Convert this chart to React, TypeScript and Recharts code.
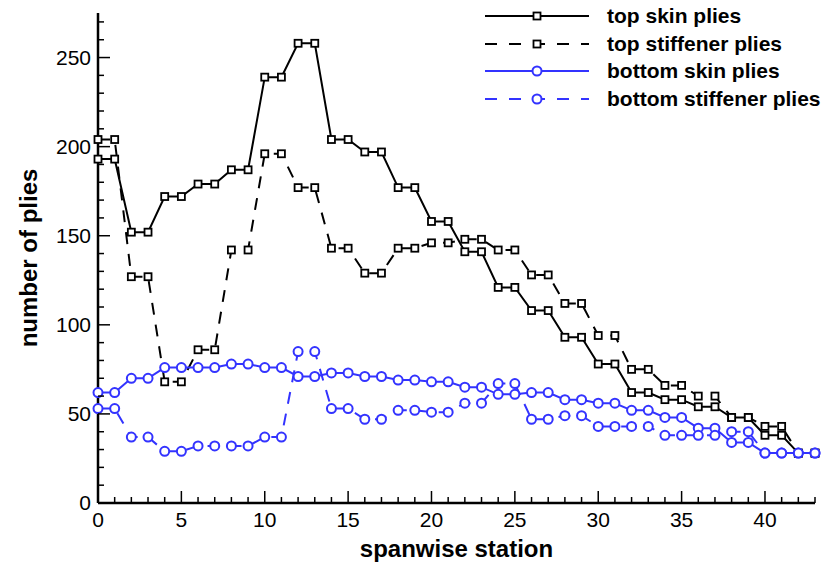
import React from 'react'
import { LineChart, Line, XAxis, YAxis } from 'recharts'

// spanwise stations along the wing
const stations = [
  0, 1, 2, 3, 4, 5, 6, 7, 8, 9, 10, 11, 12, 13, 14, 15, 16, 17, 18, 19, 20, 21,
  22, 23, 24, 25, 26, 27, 28, 29, 30, 31, 32, 33, 34, 35, 36, 37, 38, 39, 40, 41, 42, 43,
]

const topSkin = [
  193, 193, 152, 152, 172, 172, 179, 179, 187, 187, 239, 239, 258, 258, 204, 204, 197, 197, 177, 177, 158, 158,
  141, 141, 121, 121, 108, 108, 93, 93, 78, 78, 62, 62, 58, 58, 54, 54, 48, 48, 38, 38, 28, 28,
]
const topStiffener = [
  204, 204, 127, 127, 68, 68, 86, 86, 142, 142, 196, 196, 177, 177, 143, 143, 129, 129, 143, 143, 146, 146,
  148, 148, 142, 142, 128, 128, 112, 112, 94, 94, 75, 75, 66, 66, 60, 60, 48, 48, 43, 43, 28, 28,
]
const bottomSkin = [
  62, 62, 70, 70, 76, 76, 76, 76, 78, 78, 76, 76, 71, 71, 73, 73, 71, 71, 69, 69, 68, 68,
  65, 65, 61, 61, 62, 62, 58, 58, 56, 56, 52, 52, 48, 48, 42, 42, 34, 34, 28, 28, 28, 28,
]
const bottomStiffener = [
  53, 53, 37, 37, 29, 29, 32, 32, 32, 32, 37, 37, 85, 85, 53, 53, 47, 47, 52, 52, 51, 51,
  56, 56, 67, 67, 47, 47, 49, 49, 43, 43, 43, 43, 38, 38, 38, 38, 40, 40, 28, 28, 28, 28,
]

const yTicks = [0, 10, 20, 30, 40, 50, 60, 70, 80, 90, 100, 110, 120, 130, 140, 150, 160, 170, 180, 190, 200, 210, 220, 230, 240, 250, 260, 270]

const legendItems = [
  { name: 'top skin plies', color: '#000', dashed: false, marker: 'square' },
  { name: 'top stiffener plies', color: '#000', dashed: true, marker: 'square' },
  { name: 'bottom skin plies', color: '#3333ff', dashed: false, marker: 'circle' },
  { name: 'bottom stiffener plies', color: '#3333ff', dashed: true, marker: 'circle' },
]

const BLUE = '#3333ff'
const FONT = '"Liberation Sans", Arial, Helvetica, sans-serif'
const DASH = '12 10'

const data = stations.map((s, i) => ({
  station: s,
  topSkin: topSkin[i],
  topStiffener: topStiffener[i],
  bottomSkin: bottomSkin[i],
  bottomStiffener: bottomStiffener[i],
}))

const YTick = (props: any) => {
  const { x, y, payload } = props
  const v = payload.value
  const major = v % 50 === 0
  return (
    <g>
      <line x1={x} x2={x + (major ? 12 : 6)} y1={y} y2={y} stroke="#000" strokeWidth={1.5} />
      {major && (
        <text x={x - 7} y={y + 7} textAnchor="end" fontSize={21} fontFamily={FONT} fill="#000">
          {v}
        </text>
      )}
    </g>
  )
}

const XTick = (props: any) => {
  const { x, y, payload } = props
  const v = payload.value
  const major = v % 5 === 0
  return (
    <g>
      <line x1={x} x2={x} y1={y} y2={y - (major ? 12 : 6)} stroke="#000" strokeWidth={1.5} />
      {major && (
        <text x={x} y={y + 24} textAnchor="middle" fontSize={21} fontFamily={FONT} fill="#000">
          {v}
        </text>
      )}
    </g>
  )
}

const squareDot = (props: any) => {
  const { cx, cy, index } = props
  return (
    <rect key={`sq-${props.dataKey}-${index}`} x={cx - 3.5} y={cy - 3.5} width={7} height={7}
      fill="#fff" stroke="#000" strokeWidth={1.8} />
  )
}

const circleDot = (props: any) => {
  const { cx, cy, index } = props
  return (
    <circle key={`ci-${props.dataKey}-${index}`} cx={cx} cy={cy} r={4.5}
      fill="#fff" stroke={BLUE} strokeWidth={2} />
  )
}

function LegendRow({ item }: { item: typeof legendItems[number] }) {
  return (
    <div style={{ display: 'flex', alignItems: 'center', height: 27.8 }}>
      <svg width={104} height={20} style={{ overflow: 'visible' }}>
        <line x1={0} x2={104} y1={10} y2={10} stroke={item.color} strokeWidth={2}
          strokeDasharray={item.dashed ? '12 12' : undefined} />
        {item.marker === 'square' ? (
          <rect x={48.5} y={6.5} width={7} height={7} fill="#fff" stroke="#000" strokeWidth={1.8} />
        ) : (
          <circle cx={52} cy={10} r={4.5} fill="#fff" stroke={BLUE} strokeWidth={2} />
        )}
      </svg>
      <span style={{ marginLeft: 18, fontFamily: FONT, fontWeight: 700, fontSize: 21, color: '#000', whiteSpace: 'nowrap' }}>
        {item.name}
      </span>
    </div>
  )
}

export default function App() {
  return (
    <div style={{ position: 'absolute', left: 0, top: 0, width: 839, height: 565, background: '#fff' }}>
      <LineChart width={839} height={565} data={data} margin={{ top: 13, right: 24, bottom: 0, left: 0 }}>
        <XAxis
          dataKey="station"
          type="number"
          domain={[0, 43]}
          ticks={stations}
          interval={0}
          height={62}
          tickSize={0}
          tickMargin={0}
          tick={<XTick />}
          axisLine={{ stroke: '#000', strokeWidth: 2.5 }}
          tickLine={false}
          label={(p: any) => {
            const vb = p.viewBox
            return (
              <text x={vb.x + vb.width / 2} y={vb.y + 54} textAnchor="middle" fontSize={24}
                fontWeight={700} fontFamily={FONT} fill="#000">spanwise station</text>
            )
          }}
        />
        <YAxis
          type="number"
          domain={[0, 275]}
          ticks={yTicks}
          interval={0}
          width={98}
          tickSize={0}
          tickMargin={0}
          tick={<YTick />}
          axisLine={{ stroke: '#000', strokeWidth: 2.5 }}
          tickLine={false}
          label={(p: any) => {
            const vb = p.viewBox
            const cx = 28
            const cy = vb.y + 245
            return (
              <text x={cx} y={cy} transform={`rotate(-90 ${cx} ${cy})`} textAnchor="middle" dominantBaseline="central"
                fontSize={24} fontWeight={700} fontFamily={FONT} fill="#000">number of plies</text>
            )
          }}
        />
        <Line dataKey="topSkin" stroke="#000" strokeWidth={2} dot={squareDot} activeDot={false} isAnimationActive={false} />
        <Line dataKey="topStiffener" stroke="#000" strokeWidth={2} strokeDasharray={DASH} dot={squareDot} activeDot={false} isAnimationActive={false} />
        <Line dataKey="bottomSkin" stroke={BLUE} strokeWidth={2} dot={circleDot} activeDot={false} isAnimationActive={false} />
        <Line dataKey="bottomStiffener" stroke={BLUE} strokeWidth={2} strokeDasharray={DASH} dot={circleDot} activeDot={false} isAnimationActive={false} />
      </LineChart>
      <div style={{ position: 'absolute', left: 485, top: 2 }}>
        {legendItems.map((item) => (
          <LegendRow key={item.name} item={item} />
        ))}
      </div>
    </div>
  )
}
